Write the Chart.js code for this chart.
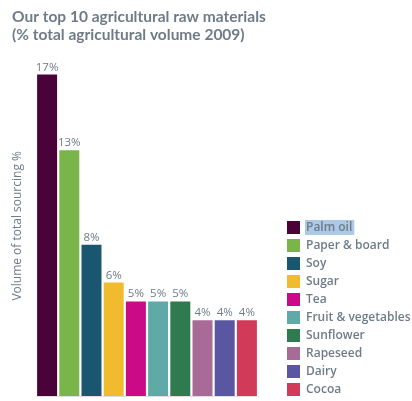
<!DOCTYPE html>
<html>
<head>
<meta charset="UTF-8">
<title>Top 10 agricultural raw materials</title>
<script src="https://cdn.jsdelivr.net/npm/chart.js"></script>
<style>
    html, body { margin: 0; padding: 0; background: #fff; }
    #wrap { width: 412px; height: 401px; }
</style>
</head>
<body>
<div id="wrap"><canvas id="chart"></canvas></div>
<script>
    // data
    const materials = ['Palm oil', 'Paper & board', 'Soy', 'Sugar', 'Tea', 'Fruit & vegetables', 'Sunflower', 'Rapeseed', 'Dairy', 'Cocoa'];
    const shares = [17, 13, 8, 6, 5, 5, 5, 4, 4, 4];
    const barColors = ['#4a0339', '#7ab54a', '#1b5670', '#f0bb2e', '#cb0a87', '#5fa9a7', '#2f7a4f', '#a86b98', '#5a56a1', '#d13a58'];
    const titleLines = ['Our top 10 agricultural raw materials', '(% total agricultural volume 2009)'];

    const grey = '#6f7c88';
    const FONT = '"Open Sans", "Noto Sans", sans-serif';

    // percent labels on top of bars
    const barLabels = {
        id: 'barLabels',
        afterDatasetsDraw(chart) {
            const ctx = chart.ctx;
            const meta = chart.getDatasetMeta(0);
            ctx.save();
            ctx.font = '11.5px ' + FONT;
            ctx.fillStyle = grey;
            ctx.textAlign = 'center';
            ctx.textBaseline = 'alphabetic';
            meta.data.forEach((bar, i) => {
                ctx.fillText(shares[i] + '%', bar.x, bar.y - 4);
            });
            ctx.restore();
        }
    };

    // the selection highlight behind "Palm oil" in the legend
    const legendHighlight = {
        id: 'legendHighlight',
        beforeDraw(chart) {
            const lg = chart.legend;
            if (!lg || !lg.legendHitBoxes || !lg.legendHitBoxes.length) return;
            const hb = lg.legendHitBoxes[0];
            const ctx = chart.ctx;
            ctx.save();
            ctx.font = '600 12px ' + FONT;
            const w = ctx.measureText(materials[0]).width;
            ctx.fillStyle = '#acc9e6';
            ctx.fillRect(hb.left + 13 + 5, hb.top - 1, w + 3, 15);
            ctx.restore();
        }
    };

    new Chart(document.getElementById('chart'), {
        type: 'bar',
        data: {
            labels: materials,
            datasets: [{
                label: 'Volume of total sourcing %',
                data: shares,
                backgroundColor: barColors,
                borderWidth: 0,
                categoryPercentage: 1,
                barPercentage: 0.9
            }]
        },
        options: {
            responsive: true,
            maintainAspectRatio: false,
            animation: false,
            layout: { padding: { left: 12, right: 0, top: 0, bottom: 0 } },
            scales: {
                x: {
                    ticks: { display: false },
                    grid: { display: false },
                    border: { display: true, color: '#e6dfe1', width: 1 },
                    afterFit(scale) { scale.height = 5; }
                },
                y: {
                    min: 0,
                    max: 18,
                    ticks: { display: false },
                    grid: { display: false },
                    border: { display: false },
                    title: {
                        display: true,
                        text: 'Volume of total sourcing %',
                        color: grey,
                        font: { family: FONT, size: 12, lineHeight: 1 },
                        padding: { top: 0, bottom: 0 }
                    },
                    afterFit(scale) { scale.width = 24; }
                },
                gap: {
                    position: 'right',
                    display: true,
                    ticks: { display: false },
                    grid: { display: false },
                    border: { display: false },
                    afterFit(scale) { scale.width = 24; }
                }
            },
            plugins: {
                title: {
                    display: true,
                    text: titleLines,
                    align: 'start',
                    color: grey,
                    font: { family: 'Lato, "Open Sans", sans-serif', size: 15.5, weight: 'bold', lineHeight: 1.15 },
                    padding: { top: 8, bottom: 12 }
                },
                legend: {
                    display: true,
                    position: 'right',
                    align: 'end',
                    maxWidth: 130,
                    labels: {
                        boxWidth: 13,
                        boxHeight: 13,
                        padding: 5,
                        color: grey,
                        font: { family: FONT, size: 12, weight: '600' },
                        generateLabels(chart) {
                            return materials.map((m, i) => ({
                                text: m,
                                fillStyle: barColors[i],
                                strokeStyle: barColors[i],
                                lineWidth: 0,
                                fontColor: grey,
                                hidden: false,
                                index: i
                            }));
                        }
                    }
                },
                tooltip: { enabled: false }
            }
        },
        plugins: [legendHighlight, barLabels]
    });
</script>
</body>
</html>
